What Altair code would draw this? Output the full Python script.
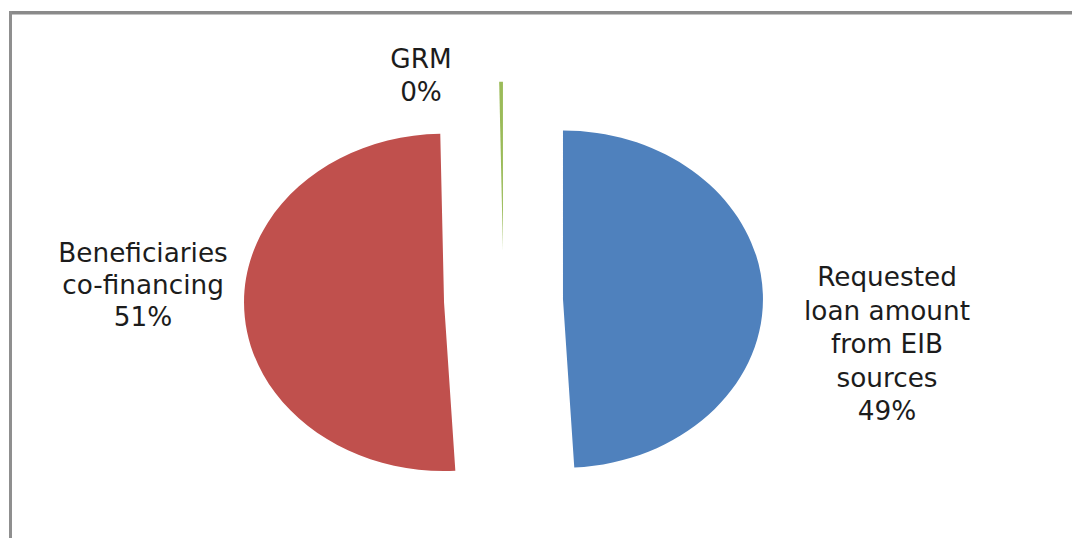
import altair as alt
import pandas as pd

# ---- data ----
keys = ["EIB", "Beneficiaries", "GRM"]
labels = ["Requested\nloan amount\nfrom EIB\nsources", "Beneficiaries\nco-financing", "GRM"]
shares = [49.1, 50.6, 0.3]
order = [0, 1, 2]

# ---- styles / layout ----
slice_colors = ["#4F81BD", "#C0504D", "#9BBB59"]
CX, CY = 503.5, 300.5      # pie centre (px)
RX, RY = 200.0, 168.7      # elliptical radii (px)
EX, EY = 59.5, 50.0        # explode offsets (px)
label_pos = {              # centre x, first baseline y, line height
    "EIB": (887, 286, 33.5),
    "Beneficiaries": (143, 262, 32),
    "GRM": (421, 67.5, 33),
}

df = pd.DataFrame({"key": keys, "label": labels, "share": shares, "order": order})


def r2(e):
    return f"round(({e})*100)/100"


path_expr = (
    "'M0,0L' + " + r2(f"{RX}*sin(datum.a0)") + " + ',' + " + r2(f"-{RY}*cos(datum.a0)")
    + f" + 'A{RX},{RY} 0 ' + (datum.a1 - datum.a0 > PI ? '1' : '0') + ' 1 ' + "
    + r2(f"{RX}*sin(datum.a1)") + " + ',' + " + r2(f"-{RY}*cos(datum.a1)") + " + 'Z'"
)

base = (
    alt.Chart(df)
    .transform_window(cum="sum(share)", sort=[alt.SortField("order")], frame=[None, 0])
    .transform_joinaggregate(total="sum(share)")
    .transform_calculate(a0="2*PI*(datum.cum - datum.share)/datum.total")
    .transform_calculate(a1="2*PI*datum.cum/datum.total")
    .transform_calculate(mid="(datum.a0 + datum.a1)/2")
    .transform_calculate(px=f"{CX} + {EX}*sin(datum.mid)")
    .transform_calculate(py=f"{CY} - {EY}*cos(datum.mid)")
    .transform_calculate(path=path_expr)
)

slices = base.mark_point(filled=True, opacity=1, size=4, strokeWidth=0).encode(
    x=alt.X("px:Q", scale=None, axis=None),
    y=alt.Y("py:Q", scale=None, axis=None),
    shape=alt.Shape("path:N", scale=None, legend=None),
    color=alt.Color("key:N", scale=alt.Scale(domain=keys, range=slice_colors), legend=None),
)

text_layers = []
for k, (lx, ly, lh) in label_pos.items():
    text_layers.append(
        base.transform_filter(alt.datum.key == k)
        .transform_calculate(txt="datum.label + '\\n' + round(datum.share) + '%'")
        .mark_text(
            font="DejaVu Sans", fontSize=26.3, lineHeight=lh, lineBreak="\n",
            align="center", baseline="alphabetic", color="#1c1c1c",
        )
        .encode(x=alt.value(lx), y=alt.value(ly), text="txt:N")
    )

one = pd.DataFrame({"k": [0]})
top_rule = alt.Chart(one).mark_rule(color="#8a8a8a", strokeWidth=3.5).encode(
    x=alt.value(9), x2=alt.value(1072), y=alt.value(12.8)
)
left_rule = alt.Chart(one).mark_rule(color="#8f8f8f", strokeWidth=3).encode(
    x=alt.value(10.5), y=alt.value(11), y2=alt.value(538)
)

chart = (
    alt.layer(top_rule, left_rule, slices, *text_layers)
    .properties(width=1072, height=538, padding=0, autosize="none", background="white")
    .configure_view(stroke=None)
)

chart.save("out.html", embed_options={"renderer": "svg", "actions": False})
